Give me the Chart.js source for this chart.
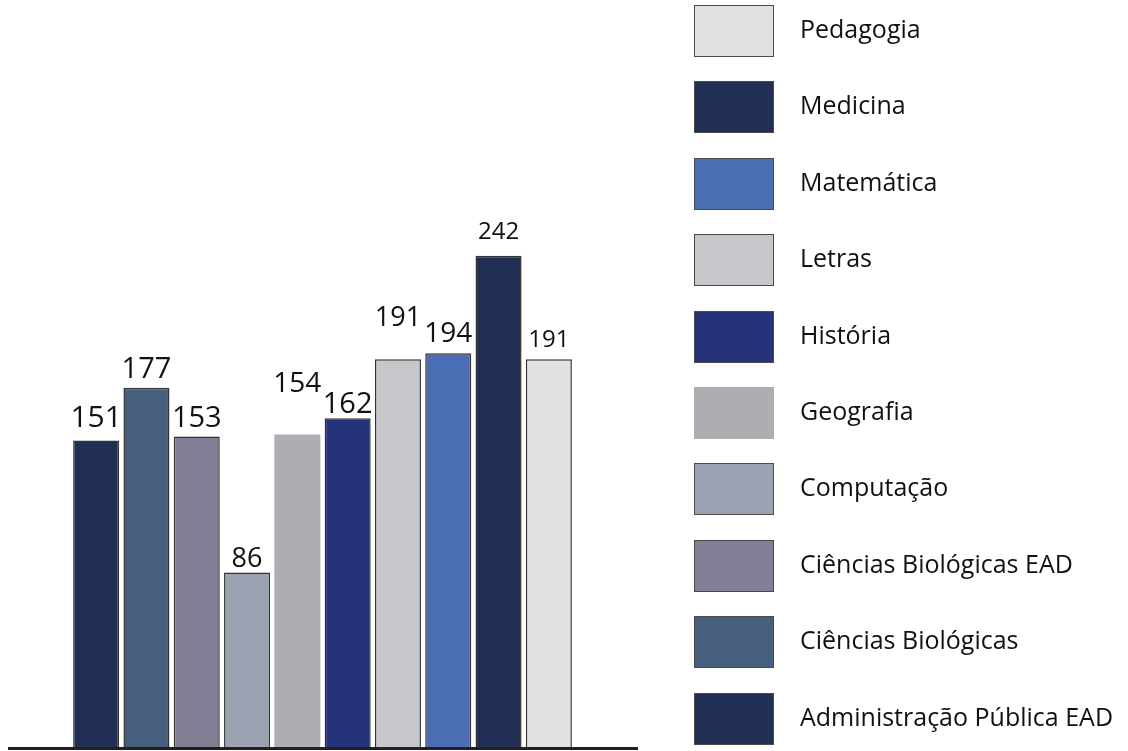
<!DOCTYPE html>
<html>
<head>
<meta charset="utf-8">
<script src="https://cdn.jsdelivr.net/npm/chart.js@4.4.1/dist/chart.umd.min.js"></script>
<style>
    html, body { margin: 0; padding: 0; background: #fff; }
    #wrap { position: relative; width: 1128px; height: 751px; }
    #legenda { position: absolute; left: 694px; top: 5px; font-family: 'Open Sans', sans-serif; font-size: 25px; color: #111; }
    .item { position: absolute; left: 0; width: 430px; height: 52px; }
    .caixa { position: absolute; left: 0; top: 0; width: 80px; height: 52px; box-sizing: border-box; border: 1.5px solid #4a4a4a; }
    .texto { position: absolute; left: 106px; top: 0; height: 46px; line-height: 46px; white-space: nowrap; }
</style>
</head>
<body>
<div id="wrap">
    <canvas id="grafico"></canvas>
    <div id="legenda"></div>
</div>
<script>
// dados
const cursos = ['Administração Pública EAD', 'Ciências Biológicas', 'Ciências Biológicas EAD', 'Computação', 'Geografia',
    'História', 'Letras', 'Matemática', 'Medicina', 'Pedagogia'];
const valores = [151, 177, 153, 86, 154, 162, 191, 194, 242, 191];

// estilo
const cores = ['#222f55', '#475f7e', '#817f95', '#9ba3b3', '#adaeb1', '#25347a', '#c6c7ca', '#4a6db3', '#222f55', '#e0e1e3'];
const bordas = [1.5, 1.5, 1.5, 1.5, 0, 1.5, 1.5, 1.5, 1.5, 1.5];
const tamanhoRotulo = [30, 29, 29, 27, 28, 29, 27, 28, 24, 24];
const distanciaRotulo = [13, 10, 9, 5, 42, 5, 33, 11, 17, 12];

const canvas = document.getElementById('grafico');
canvas.width = 1128;
canvas.height = 751;

// linha de base que passa um pouco das barras
const linhaBase = {
    id: 'linhaBase',
    afterDatasetsDraw(chart) {
        const ctx = chart.ctx;
        const y = chart.scales.y.getPixelForValue(0) + 1.5;
        ctx.save();
        ctx.strokeStyle = '#231f20';
        ctx.lineWidth = 3;
        ctx.beginPath();
        ctx.moveTo(chart.chartArea.left - 63, y);
        ctx.lineTo(chart.chartArea.right + 64, y);
        ctx.stroke();
        ctx.restore();
    }
};

// valores em cima das barras
const rotulos = {
    id: 'rotulos',
    afterDatasetsDraw(chart) {
        const ctx = chart.ctx;
        const meta = chart.getDatasetMeta(0);
        ctx.save();
        ctx.fillStyle = '#111';
        ctx.textAlign = 'center';
        ctx.textBaseline = 'alphabetic';
        meta.data.forEach((bar, i) => {
            ctx.font = tamanhoRotulo[i] + 'px "Open Sans"';
            ctx.fillText(String(valores[i]), bar.x, bar.y - distanciaRotulo[i]);
        });
        ctx.restore();
    }
};

new Chart(canvas.getContext('2d'), {
    type: 'bar',
    data: {
        labels: cursos,
        datasets: [{
            data: valores,
            backgroundColor: cores,
            borderColor: '#333',
            borderWidth: bordas,
            barPercentage: 0.915,
            categoryPercentage: 1
        }]
    },
    options: {
        responsive: false,
        animation: false,
        layout: { padding: { left: 71, right: 554, top: 138, bottom: 4 } },
        plugins: { legend: { display: false }, tooltip: { enabled: false } },
        scales: {
            x: { display: false },
            y: { display: false, min: 0, max: 300 }
        }
    },
    plugins: [linhaBase, rotulos]
});

// legenda em ordem inversa
const legenda = document.getElementById('legenda');
for (let i = cursos.length - 1, k = 0; i >= 0; i--, k++) {
    const item = document.createElement('div');
    item.className = 'item';
    item.style.top = (k * 76.4) + 'px';
    const caixa = document.createElement('div');
    caixa.className = 'caixa';
    caixa.style.background = cores[i];
    if (bordas[i] === 0) caixa.style.border = 'none';
    const texto = document.createElement('div');
    texto.className = 'texto';
    texto.textContent = cursos[i];
    item.appendChild(caixa);
    item.appendChild(texto);
    legenda.appendChild(item);
}
</script>
</body>
</html>
